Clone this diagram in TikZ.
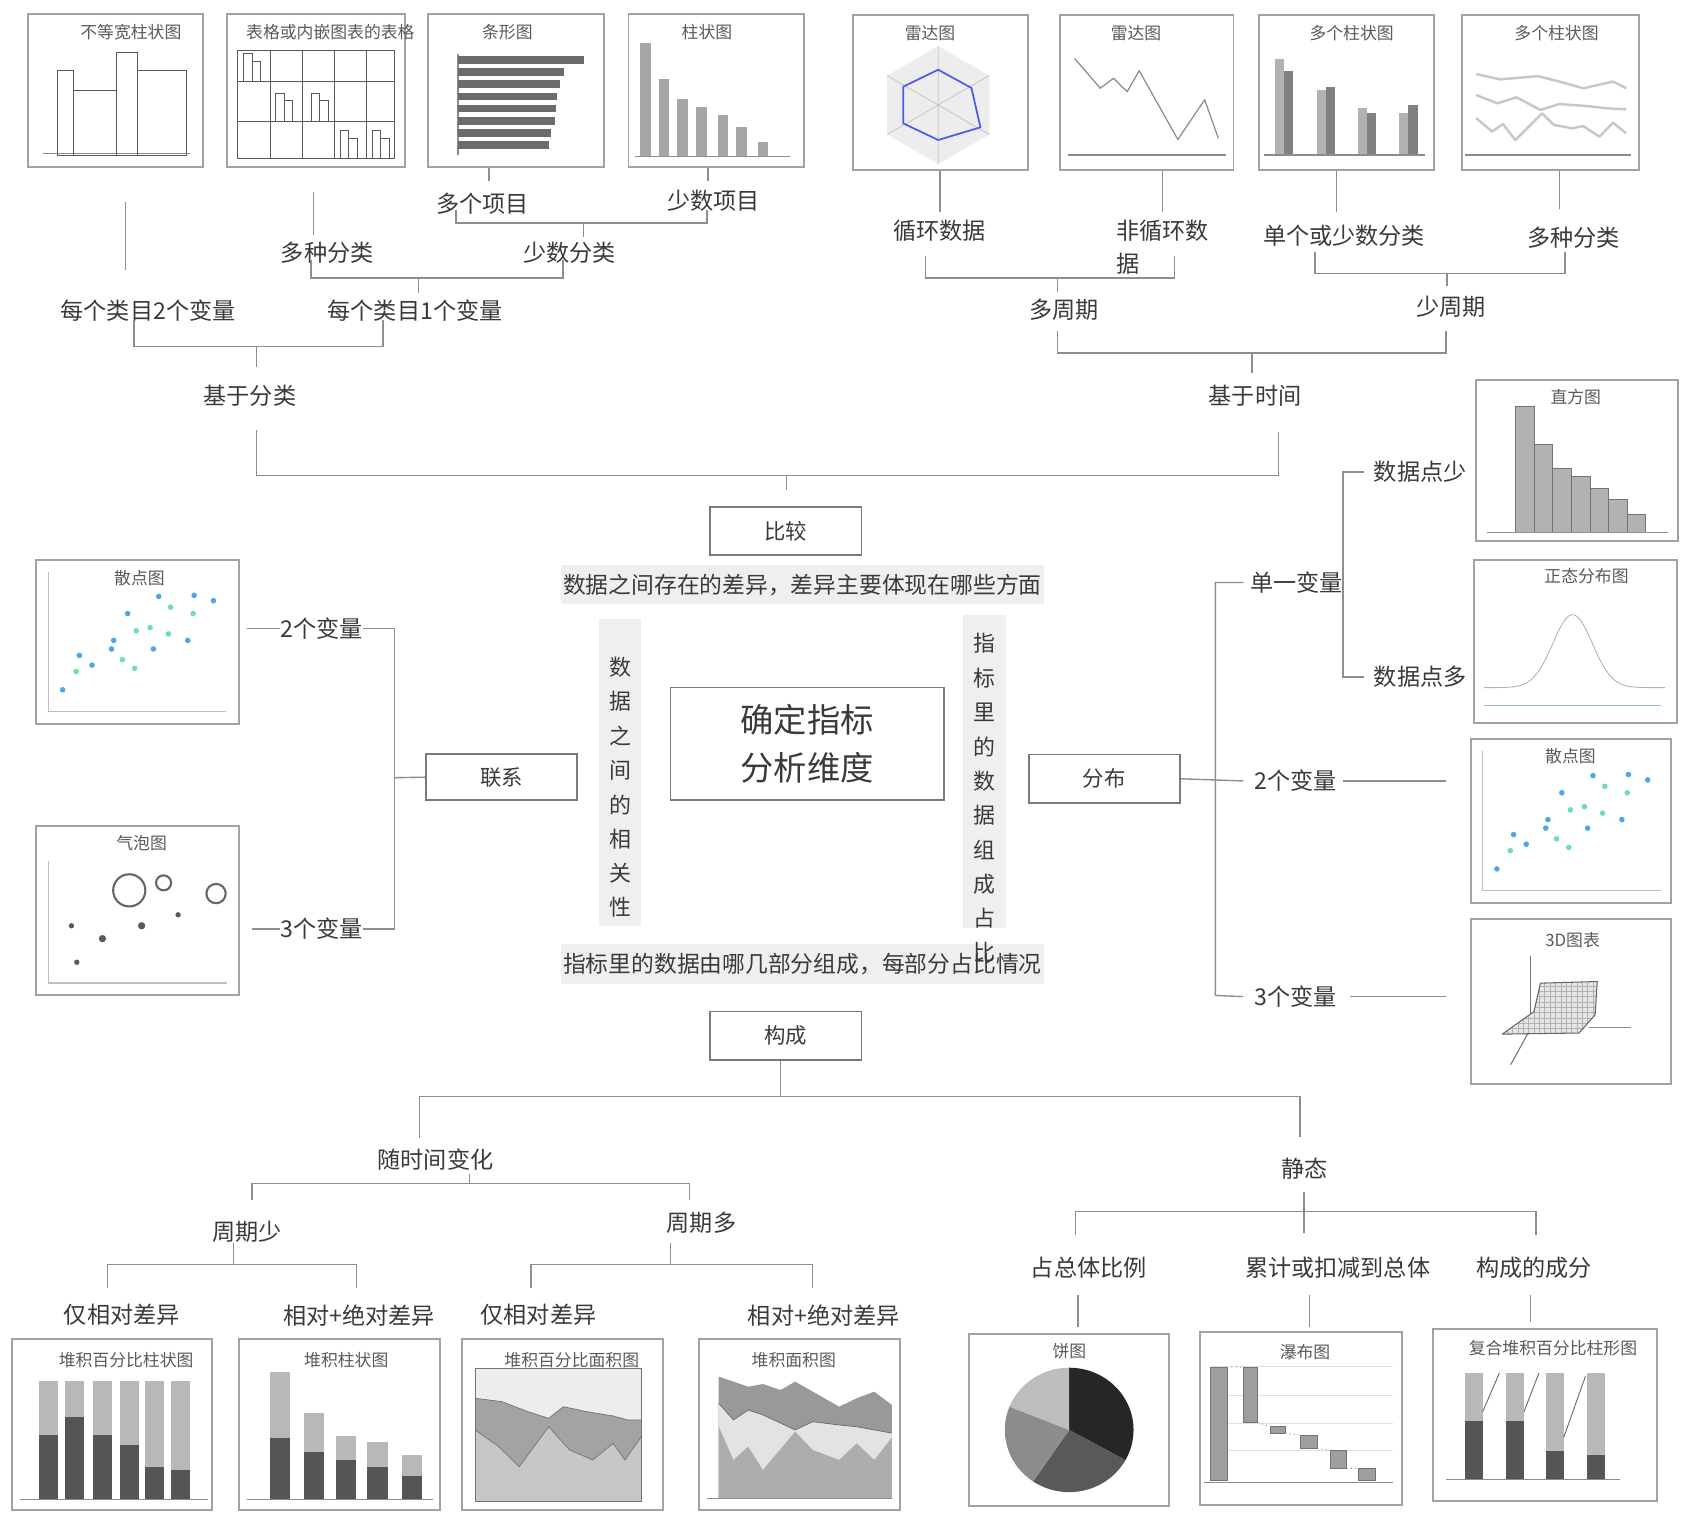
\documentclass[tikz,border=0pt]{standalone}
\usepackage{fontspec}
\setmainfont{Noto Sans CJK SC}
\usetikzlibrary{positioning,calc}
\definecolor{lineg}{HTML}{8E8E8E}
\definecolor{frameg}{HTML}{A2A2A2}
\definecolor{boxg}{HTML}{7A7A7A}
\definecolor{txtg}{HTML}{3A3A3A}
\definecolor{titleg}{HTML}{5A5A5A}
\definecolor{bandg}{HTML}{EFEFEF}
\definecolor{dotblue}{HTML}{4DA6E8}
\definecolor{dotgreen}{HTML}{6FDDB0}
\definecolor{radarblue}{HTML}{4B5CF0}
\definecolor{barlt}{HTML}{B8B8B8}
\definecolor{bardk}{HTML}{555555}
\definecolor{barmid}{HTML}{8C8C8C}
\newcommand{\pxu}{0.0215cm}
\tikzset{
  lbl/.style={text=txtg, font=\fontsize{13.2}{19}\selectfont, inner sep=0pt},
  ctitle/.style={text=titleg, font=\fontsize{9.6}{11}\selectfont, inner sep=0pt},
  vch/.style={text=txtg, font=\fontsize{12.5}{14}\selectfont, inner sep=0pt},
  dim/.style={draw=boxg, line width=0.9pt, fill=white, text=txtg, font=\fontsize{12.2}{14}\selectfont, minimum width=141*\pxu, minimum height=45*\pxu, inner sep=0pt},
  band/.style={fill=bandg, text=txtg, font=\fontsize{13}{15}\selectfont, inner sep=0pt},
  chartbox/.style 2 args={draw=frameg, line width=1.1pt, anchor=north west, minimum width=#1*\pxu, minimum height=#2*\pxu, inner sep=0pt},
  link/.style={draw=lineg, line width=0.8pt},
  axisg/.style={draw=black!25, line width=0.8pt},
  baseg/.style={draw=black!45, line width=0.8pt},
  outl/.style={draw=black!65, line width=0.5pt},
  chartline/.style={draw=black!45, line width=0.7pt, line join=round}
}
% scatter points, shared by both scatter charts
\newcommand{\scatterpane}[1]{%
  \begin{scope}[shift={#1}]
    \draw[axisg] (12,12) -- (12,142) -- (178,142);
    \foreach \a/\b in {25.4/122, 41/90, 52.8/99, 73/76, 71/84, 86/51, 110/84, 115/35, 142/76, 148/34, 166/39}
      \fill[dotblue] (\a,\b) circle[radius=2.6];
    \foreach \a/\b in {38/105, 81/94, 92.5/102, 94/67, 107/64, 124/70, 126/45, 147/51}
      \fill[dotgreen] (\a,\b) circle[radius=2.6];
  \end{scope}}

\begin{document}
\begin{tikzpicture}[x=0.0215cm, y=-0.0215cm]
  \fill[white] (0,0) rectangle (1568,1410);
  \useasboundingbox (0,0) rectangle (1568,1410);

  % ---------- top left: compare by category ----------
  \node[chartbox={163}{143}] (cUneq) at (25,12) {};
  \node[ctitle] (tUneq) at (122,30) {不等宽柱状图};
  \draw[baseg] (40,143) -- (177,143);
  \draw[outl] (54,145) rectangle (68,66);
  \draw[outl] (68,145) rectangle (109,84);
  \draw[outl] (109,145) rectangle (128,49);
  \draw[outl] (128,145) rectangle (174,66);

  \node[chartbox={166}{143}] (cTable) at (211,12) {};
  \node[ctitle] (tTable) at (308,30) {表格或内嵌图表的表格};
  \draw[outl] (221,46.6) rectangle (368,147.6);
  \foreach \gx in {252,282,312,342} \draw[outl] (\gx,46.6) -- (\gx,147.6);
  \foreach \gy in {76,113} \draw[outl] (221,\gy) -- (368,\gy);
  \foreach \cx/\cy in {227/76, 257/113, 290/113, 317/147.6, 347/147.6} {
    \draw[outl] (\cx,\cy) rectangle ++(8,-26);
    \draw[outl] (\cx+8,\cy) rectangle ++(8,-19);
  }

  \node[chartbox={164}{143}] (cHbar) at (398,12) {};
  \node[ctitle] (tHbar) at (473,30) {条形图};
  \draw[baseg] (427,50) -- (427,144.5);
  \foreach \yy/\xe in {56/544, 67.3/526, 78.6/522, 89.9/519, 101.2/518, 112.5/517, 123.8/514, 135.1/512}
    \fill[black!58] (427,\yy-3.6) rectangle (\xe,\yy+3.6);

  \node[chartbox={164}{143}] (cCol) at (585,12) {};
  \node[ctitle] (tCol) at (659,30) {柱状图};
  \foreach \cx/\tp in {601.6/40, 619/73.6, 636.5/92.6, 654/99.4, 674/107, 691.5/118.7, 711.4/132}
    \fill[black!35] (\cx-5,\tp) rectangle (\cx+5,146);
  \draw[baseg] (592,146) -- (736,146);

  \node[lbl] (lManyItem) at (450,190) {多个项目};
  \node[lbl] (lFewItem) at (665,187) {少数项目};
  \node[lbl] (lMultiCat) at (305,236) {多种分类};
  \node[lbl] (lFewCat) at (531,236) {少数分类};
  \node[lbl] (lTwoVar) at (138,290) {每个类目2个变量};
  \node[lbl] (lOneVar) at (387,290) {每个类目1个变量};
  \node[lbl] (lByCat) at (233,369) {基于分类};

  \draw[link] (cHbar.south) ++(-25,0) -- ++(0,12);
  \draw[link] (cCol.south) ++(-8,0) -- ++(0,12);
  \draw[link] (117,188) -- (117,252);
  \draw[link] (292,179) -- (292,219);
  \draw[link] (425,196) |- (659,208) -- (659,196);
  \draw[link] (544,208) -- (544,221);
  \draw[link] (290,242) |- (525,259) -- (525,242);
  \draw[link] (390,259) -- (390,273);
  \draw[link] (125,298) |- (357,323) -- (357,298);
  \draw[link] (239,323) -- (239,342);
  \draw[link] (239,401) |- (1192,443) -- (1192,403);
  \draw[link] (733,443) -- (733,457);

  % ---------- top right: compare over time ----------
  \node[chartbox={163}{145}] (cRadar) at (794,13) {};
  \node[ctitle] (tRadar) at (867,31) {雷达图};
  \fill[black!7] (874.6,42.9) -- (922.2,70.4) -- (922.2,125.4) -- (874.6,152.9) -- (827,125.4) -- (827,70.4) -- cycle;
  \draw[black!22, line width=0.5pt] (874.6,42.9) -- (874.6,152.9) (922.2,70.4) -- (827,125.4) (922.2,125.4) -- (827,70.4);
  \draw[radarblue, line width=1pt, line join=round] (874.6,65) -- (905.6,82) -- (914,118.7) -- (874.6,130.5) -- (842,115) -- (842,80.8) -- cycle;

  \node[chartbox={162}{145}] (cLine) at (987,13) {};
  \node[ctitle] (tLine) at (1059,31) {雷达图};
  \draw[baseg] (995.7,144.5) -- (1143,144.5);
  \draw[chartline] (1001.7,54.4) -- (1025.7,82.3) -- (1038,73) -- (1050.8,85.5) -- (1062,65.9) -- (1098,130) -- (1123,93) -- (1135.8,129);

  \node[chartbox={163}{145}] (cMulti) at (1173,13) {};
  \node[ctitle] (tMulti) at (1260,31) {多个柱状图};
  \foreach \xa/\ta/\tb in {1188.4/55.3/66, 1227.5/84/81, 1266/101/105.6, 1304.5/105.6/98} {
    \fill[black!30] (\xa,\ta) rectangle (\xa+8.5,144.5);
    \fill[black!50] (\xa+8.5,\tb) rectangle (\xa+17,144.5);
  }
  \draw[baseg] (1178,144.5) -- (1328.5,144.5);

  \node[chartbox={165}{145}] (cMline) at (1362,13) {};
  \node[ctitle] (tMline) at (1451,31) {多个柱状图};
  \draw[baseg] (1366,144.5) -- (1520,144.5);
  \begin{scope}[draw=black!22, line width=1.4pt, line join=round]
    \draw (1376,69) -- (1398.6,74) -- (1433.6,71) -- (1453.7,76) -- (1476,82.3) -- (1503.7,76) -- (1516,82.3);
    \draw (1376,88.6) -- (1396,96.3) -- (1413.6,90.7) -- (1436,102.5) -- (1453.7,97) -- (1478.6,98.8) -- (1498.7,101) -- (1516,102);
    \draw (1376,110) -- (1391,122.7) -- (1401,115.6) -- (1412.6,130.5) -- (1437.6,105.7) -- (1448.6,116.5) -- (1466,119.6) -- (1476,117.5) -- (1491,127.4) -- (1503.7,114.4) -- (1516,124.3);
  \end{scope}

  \node[lbl] (lCyc) at (876,215) {循环数据};
  \node[lbl, align=left] (lNonCyc) at (1084,230.5) {非循环数\\据};
  \node[lbl] (lSingle) at (1253,220) {单个或少数分类};
  \node[lbl] (lMultiCat2) at (1467,222) {多种分类};
  \node[lbl] (lManyPer) at (992,289) {多周期};
  \node[lbl] (lFewPer) at (1353,286) {少周期};
  \node[lbl] (lByTime) at (1170,369) {基于时间};

  \draw[link] (cRadar.south) -- ++(0,38);
  \draw[link] (cLine.south) ++(15,0) -- ++(0,38);
  \draw[link] (cMulti.south) ++(-9.5,0) -- ++(0,38);
  \draw[link] (cMline.south) ++(8.5,0) -- ++(0,35);
  \draw[link] (863,239) |- (1095,259) -- (1095,239);
  \draw[link] (986,259) -- (986,272);
  \draw[link] (1226,235) |- (1459,255) -- (1459,235);
  \draw[link] (1349,255) -- (1349,267);
  \draw[link] (986,309) |- (1348,329) -- (1348,309);
  \draw[link] (1167,329) -- (1167,348);

  % ---------- centre ----------
  \node[dim] (cmp) at (732.5,495) {比较};
  \node[band, minimum width=450*\pxu, minimum height=36*\pxu] (bandTop) at (748,545) {数据之间存在的差异，差异主要体现在哪些方面};
  \node[band, minimum width=40*\pxu, minimum height=286*\pxu] (bandL) at (578,720) {};
  \node[band, minimum width=40*\pxu, minimum height=292*\pxu] (bandR) at (918,719) {};
  \node[band, minimum width=450*\pxu, minimum height=37*\pxu] (bandBot) at (748,898.5) {指标里的数据由哪几部分组成，每部分占比情况};
  \foreach \ch [count=\i] in {数,据,之,间,的,相,关,性}
    \node[vch] at (578,590+32*\i) {\ch};
  \foreach \ch [count=\i] in {指,标,里,的,数,据,组,成,占,比}
    \node[vch] at (918,568+32*\i) {\ch};
  \node[dim, minimum width=255*\pxu, minimum height=105*\pxu, font=\fontsize{19}{27.5}\selectfont, align=center] (core) at (752.5,693.5) {确定指标\\分析维度};
  \node[dim] (comp) at (732.5,965.5) {构成};
  \node[dim, minimum height=43*\pxu] (rel) at (467.5,724.5) {联系};
  \node[dim] (dist) at (1029.5,726) {分布};

  % ---------- left: relation ----------
  \node[chartbox={189}{153}] (cScatL) at (33,521) {};
  \scatterpane{(33,521)}
  \node[ctitle] (tScatL) at (130,539) {散点图};

  \node[chartbox={189}{158}] (cBubble) at (33,769) {};
  \node[ctitle] (tBubble) at (132,786) {气泡图};
  \draw[axisg] (45,803) -- (45,916.5) -- (212,916.5);
  \draw[black!60, line width=1.2pt] (120.5,830) circle[radius=15];
  \draw[black!60, line width=1.2pt] (152.5,823) circle[radius=7];
  \draw[black!60, line width=1.2pt] (201.4,833) circle[radius=9];
  \foreach \a/\b/\r in {66.6/863/2.5, 95.5/875/3.4, 132/863/3.4, 166/852.8/2.5, 71.6/897/2.5}
    \fill[black!65] (\a,\b) circle[radius=\r];

  \node[lbl] (lRel2) at (300,586) {2个变量};
  \node[lbl] (lRel3) at (300,866) {3个变量};
  \coordinate (jRel) at (368,725);
  \draw[link] (230,586) -- (lRel2.west);
  \draw[link] (235,866) -- (lRel3.west);
  \draw[link] (lRel2.east) -| (jRel) |- (lRel3.east);
  \draw[link] (jRel) -- (rel.west);

  % ---------- right: distribution ----------
  \node[lbl] (lSingleVar) at (1208.5,543) {单一变量};
  \node[lbl] (lDist2) at (1207.5,728) {2个变量};
  \node[lbl] (lDist3) at (1207.5,929) {3个变量};
  \node[lbl] (lFew) at (1324,440) {数据点少};
  \node[lbl] (lMany) at (1324,631) {数据点多};
  \draw[link] ([xshift=-6*\pxu]lSingleVar.west) -| (1133,928) -- ([xshift=-10*\pxu]lDist3.west);
  \draw[link] (dist.east) -- ([xshift=-10*\pxu]lDist2.west);
  \draw[link] ([xshift=-9*\pxu]lFew.west) -| (1252,631) -- ([xshift=-9*\pxu]lMany.west);
  \draw[link] ([xshift=6*\pxu]lDist2.east) -- ++(96,0);
  \draw[link] ([xshift=12*\pxu]lDist3.east) -- ++(90,0);

  \node[chartbox={188}{150}] (cHist) at (1375,353) {};
  \node[ctitle] (tHist) at (1469,370) {直方图};
  \foreach \tp [count=\i] in {378.9, 414.5, 436.7, 444, 455, 466, 480}
    \filldraw[fill=black!30, draw=black!55, line width=0.5pt] (1413+17.3*\i-17.3,\tp) rectangle (1413+17.3*\i,496.2);
  \draw[baseg] (1386,496.2) -- (1555,496.2);

  \node[chartbox={189}{152}] (cNorm) at (1373,521) {};
  \node[ctitle] (tNorm) at (1479,537) {正态分布图};
  \draw[black!30, line width=0.5pt] plot[domain=1383:1552, samples=90, smooth] (\x,{641-68*exp(-((\x-1466)/26)^2)});
  \draw[green!45!black!40, line width=0.5pt] (1383,658) -- (1548,658);

  \node[chartbox={187}{153}] (cScatR) at (1370,688) {};
  \scatterpane{(1370,688)}
  \node[ctitle] (tScatR) at (1464,705) {散点图};

  \node[chartbox={187}{154}] (c3D) at (1370,856) {};
  \node[ctitle] (t3D) at (1466,876) {3D图表};
  \draw[black!55, line width=0.6pt] (1427,891) -- (1427,961);
  \draw[black!55, line width=0.6pt] (1425.4,961.4) -- (1408.3,992.5);
  \draw[black!45, line width=0.8pt] (1481.4,958) -- (1520,958);
  \fill[black!10] (1400.5,964) -- (1430,943) -- (1436,916.5) -- (1489,915) -- (1487,946) -- (1472,963) -- cycle;
  \begin{scope}
    \clip (1400.5,964) -- (1430,943) -- (1436,916.5) -- (1489,915) -- (1487,946) -- (1472,963) -- cycle;
    \foreach \gx in {1400,1405,...,1490} \draw[black!30, line width=0.3pt] (\gx,910) -- (\gx,970);
    \foreach \gy in {914,919,...,966} \draw[black!30, line width=0.3pt] (1395,\gy) -- (1495,\gy);
  \end{scope}
  \draw[black!60, line width=0.6pt, line join=round] (1400.5,964) -- (1430,943) -- (1436,916.5) -- (1489,915) -- (1487,946) -- (1472,963) -- cycle;

  % ---------- bottom: composition ----------
  \draw[link] (comp.south) ++(-5,0) -- ++(0,34);
  \draw[link] (391,1061) |- (1212,1022) -- (1212,1060);
  \node[lbl] (lOverTime) at (406,1081) {随时间变化};
  \node[lbl] (lStatic) at (1216,1089) {静态};
  \draw[link] (437.7,1094) -- (437.7,1103);
  \draw[link] (235,1118.7) |- (643,1103) -- (643,1118.7);
  \node[lbl] (lFewP) at (230,1148) {周期少};
  \node[lbl] (lManyP) at (654,1140) {周期多};
  \draw[link] (217.7,1159) -- (217.7,1179);
  \draw[link] (100,1201) |- (332.6,1179) -- (332.6,1201);
  \draw[link] (625.3,1159) -- (625.3,1179);
  \draw[link] (495,1201) |- (757.7,1179) -- (757.7,1201);
  \node[lbl] (lRelA) at (113.6,1226) {仅相对差异};
  \node[lbl] (lAbsA) at (334.7,1226) {相对+绝对差异};
  \node[lbl] (lRelB) at (502,1226) {仅相对差异};
  \node[lbl] (lAbsB) at (768,1226) {相对+绝对差异};
  \draw[link] (1215.6,1111) -- (1215.6,1149);
  \draw[link] (1002.6,1151) |- (1432,1129.6) -- (1432,1151);
  \node[lbl] (lShare) at (1015,1182) {占总体比例};
  \node[lbl] (lCum) at (1247,1182) {累计或扣减到总体};
  \node[lbl] (lPart) at (1430,1182) {构成的成分};
  \draw[link] (1005,1207) -- (1005,1237);
  \draw[link] (1221,1207) -- (1221,1237);
  \draw[link] (1427,1207) -- (1427,1232);

  \node[chartbox={187}{160}] (cPctBar) at (10,1247) {};
  \node[ctitle] (tPctBar) at (117.6,1268) {堆积百分比柱状图};
  \foreach \cx/\dt in {44.9/1337.7, 69.5/1320.6, 95.7/1337.7, 120.4/1347, 143.9/1367.2, 168/1370.3} {
    \fill[barlt] (\cx-8.75,1287) rectangle (\cx+8.75,\dt);
    \fill[bardk] (\cx-8.75,\dt) rectangle (\cx+8.75,1397.7);
  }
  \draw[baseg] (19,1397.7) -- (194,1397.7);

  \node[chartbox={187}{160}] (cStackBar) at (222,1247) {};
  \node[ctitle] (tStackBar) at (322.8,1268) {堆积柱状图};
  \foreach \cx/\tp/\dt in {261/1278.7/1340.8, 292.7/1316.9/1353.3, 322.8/1338.3/1361, 351.8/1344.5/1367.9, 384/1356.4/1375.6} {
    \fill[barlt] (\cx-9.5,\tp) rectangle (\cx+9.5,\dt);
    \fill[bardk] (\cx-9.5,\dt) rectangle (\cx+9.5,1397.7);
  }
  \draw[baseg] (229.8,1397.7) -- (403.7,1397.7);

  \node[chartbox={187}{160}] (cPctArea) at (430,1247) {};
  \fill[black!7] (443,1275.6) rectangle (598,1399.9);
  \fill[black!36] (443,1399.9) -- (443,1303.5) -- (467.7,1306.6) -- (492.3,1316) -- (511.5,1322.2) -- (525.2,1311.3) -- (547,1316) -- (571.6,1320) -- (585.3,1323.7) -- (598,1323.7) -- (598,1399.9) -- cycle;
  \fill[black!22] (443,1399.9) -- (443,1333) -- (465,1348.6) -- (484,1367.3) -- (511.5,1330) -- (531,1351.7) -- (552.5,1361) -- (571.6,1345.5) -- (582.6,1361) -- (598,1339) -- (598,1399.9) -- cycle;
  \draw[black!55, line width=0.4pt] (443,1303.5) -- (467.7,1306.6) -- (492.3,1316) -- (511.5,1322.2) -- (525.2,1311.3) -- (547,1316) -- (571.6,1320) -- (585.3,1323.7) -- (598,1323.7);
  \draw[black!55, line width=0.4pt] (443,1333) -- (465,1348.6) -- (484,1367.3) -- (511.5,1330) -- (531,1351.7) -- (552.5,1361) -- (571.6,1345.5) -- (582.6,1361) -- (598,1339);
  \draw[black!55, line width=0.6pt] (443,1275.6) rectangle (598,1399.9);
  \node[ctitle] (tPctArea) at (533,1268) {堆积百分比面积图};

  \node[chartbox={187}{160}] (cStackArea) at (651,1247) {};
  \node[ctitle] (tStackArea) at (740,1268) {堆积面积图};
  \fill[black!40] (670,1396.8) -- (670,1283.3) -- (683.8,1288) -- (697.5,1292.7) -- (711.2,1290.2) -- (727.6,1295.8) -- (741.3,1288) -- (757.7,1297.3) -- (782.3,1311.3) -- (798.7,1303.5) -- (815,1297.3) -- (831.5,1309.7) -- (831.5,1396.8) -- cycle;
  \fill[black!11] (670,1396.8) -- (670,1308.2) -- (683.8,1323.7) -- (697.5,1314.4) -- (711.2,1319) -- (741.3,1333) -- (757.7,1325.3) -- (782.3,1328.4) -- (798.7,1330) -- (815,1333) -- (831.5,1336) -- (831.5,1396.8) -- cycle;
  \fill[black!32] (670,1396.8) -- (670,1330) -- (683.8,1361) -- (697.5,1348.6) -- (711.2,1370.3) -- (741.3,1334.6) -- (757.7,1351.7) -- (782.3,1361) -- (798.7,1345.5) -- (815,1361) -- (831.5,1340) -- (831.5,1396.8) -- cycle;
  \draw[black!60, line width=0.4pt] (670,1308.2) -- (683.8,1323.7) -- (697.5,1314.4) -- (711.2,1319) -- (741.3,1333) -- (757.7,1325.3) -- (782.3,1328.4) -- (798.7,1330) -- (815,1333) -- (831.5,1336);
  \draw[baseg] (659,1396.8) -- (831.5,1396.8);

  \node[chartbox={187}{160}] (cPie) at (902,1243) {};
  \node[ctitle] (tPie) at (997,1260) {饼图};
  \begin{scope}[shift={(996.7,1333)}, yscale=-1]
    \fill[black!85] (0,0) -- (90:60 and 58) arc[start angle=90, end angle=-29, x radius=60, y radius=58] -- cycle;
    \fill[black!65] (0,0) -- (-29:60 and 58) arc[start angle=-29, end angle=-124, x radius=60, y radius=58] -- cycle;
    \fill[black!45] (0,0) -- (-124:60 and 58) arc[start angle=-124, end angle=-202, x radius=60, y radius=58] -- cycle;
    \fill[black!26] (0,0) -- (-202:60 and 58) arc[start angle=-202, end angle=-270, x radius=60, y radius=58] -- cycle;
  \end{scope}

  \node[chartbox={188}{161}] (cWater) at (1118,1241) {};
  \node[ctitle] (tWater) at (1216.6,1260) {瀑布图};
  \foreach \gy in {1273.4, 1300.4, 1326.8, 1351.7} \draw[black!12, line width=0.5pt] (1128.5,\gy) -- (1299,\gy);
  \foreach \xa/\xb/\ya/\yb in {1128.5/1143.9/1274.6/1380, 1158.8/1172.4/1274.6/1326.2, 1184.6/1198.2/1330/1336.2, 1212.3/1228/1337.7/1350.1, 1240.4/1255.3/1352.3/1368.8, 1266.6/1282.5/1368.8/1380.3}
    \filldraw[fill=black!38, draw=black!55, line width=0.4pt] (\xa,\ya) rectangle (\xb,\yb);
  \draw[black!50, dotted, line width=0.5pt] (1143.9,1274.6) -- (1158.8,1274.6) (1172.4,1326.2) -- (1184.6,1330) (1198.2,1336.2) -- (1212.3,1337.7) (1228,1350.1) -- (1240.4,1352.3) (1255.3,1368.8) -- (1266.6,1368.8);
  \draw[baseg] (1122.6,1382) -- (1299,1382);

  \node[chartbox={209}{160}] (cCombo) at (1335,1238) {};
  \node[ctitle] (tCombo) at (1447.7,1257) {复合堆积百分比柱形图};
  \foreach \cx/\dt in {1374/1324.4, 1412.5/1324.4, 1449.6/1352.3, 1488/1356.4} {
    \fill[barlt] (\cx-8.15,1279.6) rectangle (\cx+8.15,\dt);
    \fill[bardk] (\cx-8.15,\dt) rectangle (\cx+8.15,1379);
  }
  \draw[black!60, line width=0.5pt] (1397.7,1280) -- (1382.2,1316) (1434.6,1280) -- (1420.7,1316) (1478,1283) -- (1457.7,1340);
  \draw[baseg] (1347.7,1379) -- (1509.9,1379);
\end{tikzpicture}
\end{document}
